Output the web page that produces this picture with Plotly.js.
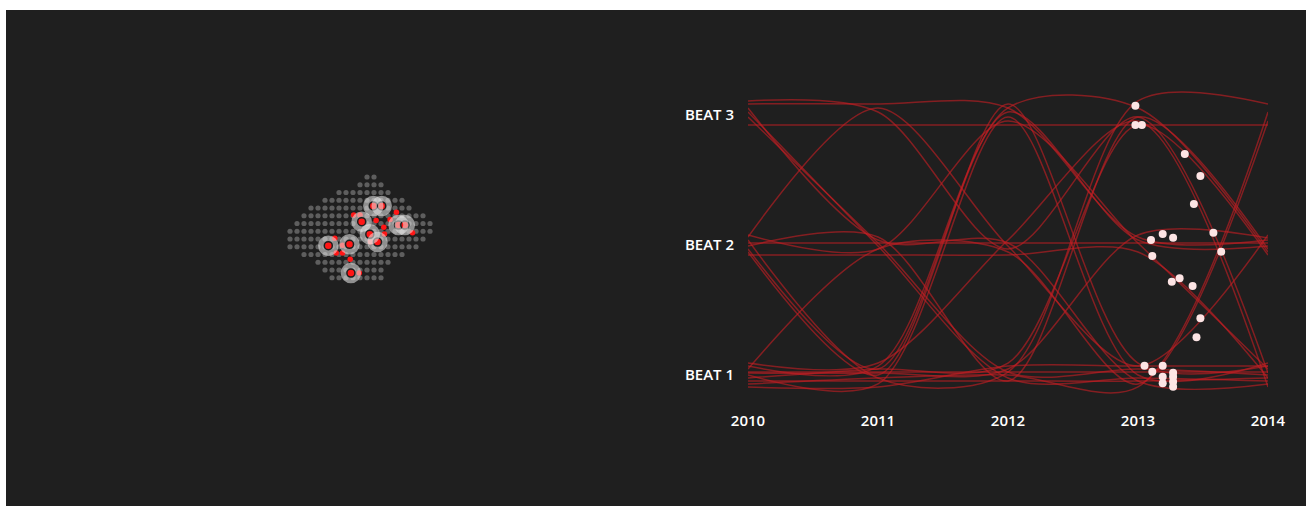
<!DOCTYPE html>
<html><head><meta charset="utf-8">
<script src="https://cdn.plot.ly/plotly-3.0.1.min.js"></script>
<style>
html,body{margin:0;padding:0;background:#ffffff;width:1306px;height:506px;overflow:hidden}
#chart{position:absolute;left:6px;top:10px;width:1300px;height:496px}
</style></head>
<body><div id="chart"></div>
<script>
// ---- Left panel: map grid (columns / rows of the district grid) ----
const gridRows     = [0, 1, 2, 3, 4, 5, 6, 7, 8, 9, 10, 11, 12, 13];
const gridColStart = [11,10, 7, 5, 3, 2, 1, 0, 0, 0, 2, 4, 5, 6];
const gridColEnd   = [12,13,14,16,17,19,20,20,19,18,16,14,13,13];

// incident locations (grid units)
const incidentCol = [15.2, 9.1, 10.0, 12.3, 14.3, 13.4, 13.5, 17.5, 6.4, 6.6, 7.5, 8.6, 11.5, 9.9, 7.5];
const incidentRow = [4.55, 4.9, 4.9, 5.6, 5.5, 6.5, 7.35, 7.2, 7.9, 9.8, 9.8, 10.6, 8.35, 12.4, 8.8];

// highlighted locations (grid units)
const highlightCol = [5.47, 8.5, 10.24, 11.9, 13.1, 11.4, 12.5, 15.5, 16.4, 8.7];
const highlightRow = [8.86, 8.68, 5.77, 3.74, 3.74, 7.4, 8.4, 6.2, 6.2, 12.4];

// ---- Right panel: beat assignment per year ----
const years = [2010, 2011, 2012, 2013, 2014];
const yearLabels = ['2010', '2011', '2012', '2013', '2014'];
const beatValues = [1, 2, 3];
const beatLabels = ['BEAT 1', 'BEAT 2', 'BEAT 3'];

const officer01 = [2.923, 2.923, 2.923, 2.923, 2.923];
const officer02 = [3.085, 3.085, 3.054, 2.062, 2.038];
const officer03 = [2.985, 2.015, 1.023, 1.046, 1.000];
const officer04 = [3.023, 1.992, 0.977, 0.977, 0.954];
const officer05 = [3.054, 2.038, 2.015, 0.954, 0.931];
const officer06 = [2.062, 3.054, 1.992, 1.069, 2.077];
const officer07 = [1.969, 1.046, 3.023, 2.038, 1.992];
const officer08 = [1.946, 1.000, 3.085, 1.092, 1.069];
const officer09 = [2.038, 0.977, 1.023, 3.108, 3.085];
const officer10 = [2.015, 2.015, 2.015, 2.015, 2.015];
const officer11 = [1.992, 2.062, 0.954, 2.985, 1.969];
const officer12 = [2.077, 1.969, 2.954, 2.015, 1.046];
const officer13 = [1.023, 1.023, 1.023, 1.023, 1.023];
const officer14 = [0.954, 0.954, 0.954, 0.954, 0.977];
const officer15 = [1.069, 1.069, 3.054, 3.054, 1.946];
const officer16 = [1.000, 0.931, 2.985, 1.000, 1.092];
const officer17 = [1.092, 1.092, 2.038, 2.954, 0.908];
const officer18 = [0.908, 0.908, 1.069, 1.069, 1.069];
const officer19 = [0.977, 1.046, 1.092, 2.923, 1.923];
const officer20 = [1.046, 1.969, 1.946, 0.931, 2.954];
const officer21 = [0.931, 0.977, 1.000, 0.908, 3.023];
const officer22 = [3.108, 3.023, 1.969, 2.985, 1.015];
const officer23 = [1.923, 1.923, 1.923, 1.946, 0.977];
const officer24 = [1.015, 1.015, 1.046, 2.077, 2.054];

const officers = [officer01, officer02, officer03, officer04, officer05, officer06, officer07, officer08,
  officer09, officer10, officer11, officer12, officer13, officer14, officer15, officer16,
  officer17, officer18, officer19, officer20, officer21, officer22, officer23, officer24];

// current position of each officer (moving markers)
const dotYear = [2012.98, 2012.98, 2013.03, 2013.36, 2013.48, 2013.43, 2013.19, 2013.27, 2013.10, 2013.58,
  2013.64, 2013.11, 2013.26, 2013.32, 2013.42, 2013.48, 2013.45, 2013.05, 2013.11, 2013.19,
  2013.19, 2013.19, 2013.27, 2013.27, 2013.27, 2013.27];
const dotBeat = [3.072, 2.923, 2.923, 2.700, 2.531, 2.315, 2.085, 2.056, 2.038, 2.095,
  1.948, 1.915, 1.718, 1.744, 1.685, 1.436, 1.290, 1.072, 1.025, 1.072,
  0.987, 0.936, 1.018, 0.987, 0.948, 0.910];

// ---- build traces ----
const gx = [], gy = [];
gridRows.forEach((r, i) => {
  for (let c = gridColStart[i]; c <= gridColEnd[i]; c++) { gx.push(c); gy.push(r); }
});

const traces = [];
traces.push({type:'scatter', mode:'markers', x:gx, y:gy, xaxis:'x', yaxis:'y',
  marker:{size:5.2, color:'#5e5e5e'}, hoverinfo:'skip', showlegend:false});
traces.push({type:'scatter', mode:'markers', x:incidentCol, y:incidentRow, xaxis:'x', yaxis:'y',
  marker:{size:5.5, color:'#ff1616'}, hoverinfo:'skip', showlegend:false});
traces.push({type:'scatter', mode:'markers', x:highlightCol, y:highlightRow, xaxis:'x', yaxis:'y',
  marker:{size:8.5, color:'#ff1616', line:{color:'#1f1f1f', width:2}}, hoverinfo:'skip', showlegend:false});
traces.push({type:'scatter', mode:'markers', x:highlightCol, y:highlightRow, xaxis:'x', yaxis:'y',
  marker:{size:15, symbol:'circle-open', color:'rgba(235,235,235,0.55)', line:{color:'rgba(235,235,235,0.55)', width:5.5}},
  hoverinfo:'skip', showlegend:false});

officers.forEach(o => {
  traces.push({type:'scatter', mode:'lines', x:years, y:o, xaxis:'x2', yaxis:'y2',
    line:{shape:'spline', smoothing:0.85, color:'rgba(196,30,36,0.62)', width:1.5},
    hoverinfo:'skip', showlegend:false});
});
traces.push({type:'scatter', mode:'markers', x:dotYear, y:dotBeat, xaxis:'x2', yaxis:'y2',
  marker:{size:8, color:'#fde4e4'}, cliponaxis:false, hoverinfo:'skip', showlegend:false});

const layout = {
  width:1300, height:496,
  margin:{l:0, r:0, t:0, b:0},
  paper_bgcolor:'#1f1f1f', plot_bgcolor:'rgba(0,0,0,0)',
  font:{family:'"Open Sans", sans-serif', color:'#ffffff', size:15},
  xaxis:{domain:[0.16462, 0.38], range:[-10, 30], visible:false, fixedrange:true},
  yaxis:{domain:[0.35081, 0.81956], range:[20, -10], visible:false, fixedrange:true},
  xaxis2:{domain:[0.57077, 0.97077], range:[2010, 2014], anchor:'y2',
    tickvals:years, ticktext:yearLabels, showgrid:false, zeroline:false, showline:false,
    ticks:'outside', ticklen:3, tickcolor:'rgba(0,0,0,0)',
    tickfont:{size:15, color:'#ffffff', weight:600}},
  yaxis2:{domain:[0.20645, 0.86169], range:[0.78, 3.28], anchor:'x2',
    tickvals:beatValues, ticktext:beatLabels, showgrid:false, zeroline:false, showline:false,
    ticks:'outside', ticklen:10, tickcolor:'rgba(0,0,0,0)',
    tickfont:{size:15, color:'#ffffff', weight:600}},
  showlegend:false
};

Plotly.newPlot('chart', traces, layout, {displayModeBar:false, staticPlot:true});
</script>
</body></html>
